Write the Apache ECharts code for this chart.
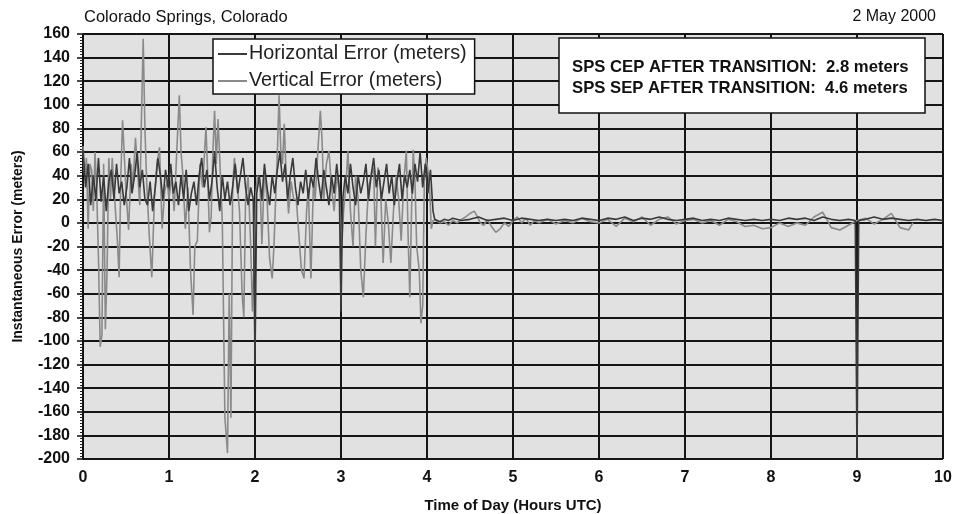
<!DOCTYPE html>
<html>
<head>
<meta charset="utf-8">
<script src="https://cdn.jsdelivr.net/npm/echarts@6/dist/echarts.min.js"></script>
<style>html,body{margin:0;padding:0;background:#fff;}#c{width:954px;height:514px;}</style>
</head>
<body>
<div id="c"></div>
<script>
// Tick labels
const xTicks = [0,1,2,3,4,5,6,7,8,9,10];
const yTicks = [-200,-180,-160,-140,-120,-100,-80,-60,-40,-20,0,20,40,60,80,100,120,140,160];

// Vertical error [hour, meters]
const verticalError = [
[0.00,65],[0.02,40],[0.04,55],[0.06,-5],[0.08,50],[0.10,45],[0.12,10],[0.14,60],[0.16,25],[0.18,-30],[0.20,-105],[0.22,-95],[0.24,50],[0.26,-90],[0.28,-40],[0.30,55],[0.32,20],[0.34,55],[0.36,30],[0.40,-15],[0.42,-46],[0.44,40],[0.46,87],[0.48,86],[0.50,27],[0.53,-6],[0.56,50],[0.58,30],[0.61,72],[0.63,50],[0.66,15],[0.68,90],[0.70,156],[0.72,80],[0.74,35],[0.77,-10],[0.80,-46],[0.83,20],[0.86,50],[0.89,64],[0.92,-5],[0.95,27],[0.98,35],
[1.00,20],[1.03,40],[1.06,10],[1.09,60],[1.12,108],[1.14,60],[1.16,42],[1.19,-5],[1.22,30],[1.25,-40],[1.28,-78],[1.30,-20],[1.33,-15],[1.36,50],[1.39,30],[1.43,81],[1.45,40],[1.47,-8],[1.49,5],[1.51,60],[1.53,95],[1.55,50],[1.57,88],[1.59,55],[1.62,0],[1.65,-165],[1.68,-195],[1.70,-60],[1.72,-165],[1.74,30],[1.76,55],[1.79,35],[1.82,10],[1.85,-60],[1.87,-80],[1.89,20],[1.92,40],[1.95,-20],[1.97,-75],[1.99,-30],
[2.01,25],[2.03,40],[2.06,30],[2.08,-18],[2.11,45],[2.14,20],[2.17,-30],[2.20,-47],[2.22,-20],[2.24,20],[2.26,60],[2.28,108],[2.30,60],[2.32,50],[2.34,84],[2.36,45],[2.39,8],[2.42,35],[2.45,20],[2.48,20],[2.51,-10],[2.54,-40],[2.57,-47],[2.60,10],[2.62,30],[2.65,-47],[2.68,35],[2.70,20],[2.73,60],[2.76,95],[2.78,70],[2.80,20],[2.83,50],[2.86,61],[2.89,30],[2.92,10],[2.95,40],[2.98,27],
[3.01,-20],[3.03,10],[3.06,35],[3.08,61],[3.11,10],[3.14,-20],[3.17,40],[3.20,20],[3.23,-40],[3.26,-63],[3.29,-10],[3.32,30],[3.35,40],[3.38,47],[3.40,-20],[3.43,47],[3.46,30],[3.49,-34],[3.52,20],[3.55,0],[3.58,-34],[3.61,10],[3.64,40],[3.67,20],[3.70,-15],[3.73,35],[3.76,61],[3.78,-10],[3.80,-63],[3.82,10],[3.84,62],[3.86,35],[3.88,-20],[3.91,-40],[3.93,-85],[3.95,-70],[3.97,40],[3.99,55],[4.01,45],[4.03,30],[4.05,-5],[4.07,2],
[4.10,2],[4.15,0],[4.20,1],[4.25,-2],[4.30,2],[4.35,0],[4.40,3],[4.45,5],[4.50,8],[4.55,10],[4.58,6],[4.62,0],[4.66,-2],[4.70,3],[4.75,-3],[4.80,-8],[4.85,-5],[4.90,0],[4.95,-3],[5.00,2],[5.05,5],[5.10,0],[5.15,4],[5.20,-2],[5.25,2],[5.30,0],[5.40,3],[5.50,-1],[5.60,2],[5.70,0],[5.80,4],[5.90,1],[6.00,0],[6.10,3],[6.20,-3],[6.30,4],[6.40,1],[6.50,5],[6.60,-2],[6.70,3],[6.80,5],[6.90,-1],[7.00,2],[7.10,3],[7.20,0],[7.30,2],[7.40,-2],[7.50,3],[7.60,1],[7.70,-3],[7.80,-2],[7.90,-5],[8.00,-4],[8.10,0],[8.20,-3],[8.30,0],[8.40,-2],[8.50,5],[8.60,9],[8.65,3],[8.70,-4],[8.80,-6],[8.90,-2],[9.00,2],[9.10,4],[9.20,-1],[9.30,3],[9.40,8],[9.45,2],[9.50,-4],[9.60,-6],[9.65,0]
];

// Horizontal error [hour, meters]
const horizontalError = [
[0.00,62],[0.03,30],[0.06,50],[0.09,15],[0.12,40],[0.15,20],[0.18,55],[0.21,18],[0.24,40],[0.27,10],[0.30,35],[0.33,45],[0.36,20],[0.39,50],[0.42,25],[0.45,35],[0.48,15],[0.51,30],[0.54,55],[0.57,25],[0.60,40],[0.63,60],[0.66,30],[0.69,45],[0.72,20],[0.75,15],[0.78,35],[0.81,10],[0.84,30],[0.87,55],[0.90,40],[0.93,20],[0.96,45],[0.99,30],
[1.02,50],[1.05,25],[1.08,35],[1.11,15],[1.14,40],[1.17,20],[1.20,45],[1.23,10],[1.26,25],[1.29,35],[1.32,15],[1.35,40],[1.38,55],[1.41,30],[1.44,45],[1.47,20],[1.50,35],[1.53,60],[1.56,30],[1.59,10],[1.62,40],[1.65,20],[1.68,35],[1.71,15],[1.74,30],[1.77,50],[1.80,25],[1.83,40],[1.86,55],[1.89,30],[1.92,15],[1.95,30],[1.98,20],[2.00,-120],
[2.02,25],[2.05,40],[2.08,20],[2.11,50],[2.14,30],[2.17,15],[2.20,40],[2.23,25],[2.26,45],[2.29,60],[2.32,35],[2.35,50],[2.38,20],[2.41,40],[2.44,55],[2.47,30],[2.50,15],[2.53,35],[2.56,25],[2.59,45],[2.62,20],[2.65,40],[2.68,30],[2.71,55],[2.74,35],[2.77,20],[2.80,45],[2.83,30],[2.86,15],[2.89,40],[2.92,25],[2.95,50],[2.98,30],[3.00,-75],
[3.02,20],[3.05,40],[3.08,25],[3.11,50],[3.14,30],[3.17,15],[3.20,40],[3.23,25],[3.26,35],[3.29,50],[3.32,20],[3.35,40],[3.38,55],[3.41,30],[3.44,45],[3.47,20],[3.50,35],[3.53,50],[3.56,25],[3.59,40],[3.62,15],[3.65,35],[3.68,50],[3.71,20],[3.74,40],[3.77,30],[3.80,45],[3.83,25],[3.86,50],[3.89,35],[3.92,60],[3.95,30],[3.98,50],[4.01,25],[4.04,45],[4.07,10],[4.09,3],
[4.15,1],[4.20,3],[4.25,2],[4.30,4],[4.40,2],[4.50,3],[4.60,5],[4.70,2],[4.80,3],[4.90,4],[5.00,2],[5.10,4],[5.20,3],[5.30,2],[5.40,3],[5.50,2],[5.60,3],[5.70,2],[5.80,4],[5.90,3],[6.00,2],[6.10,4],[6.20,3],[6.30,5],[6.40,2],[6.50,4],[6.60,3],[6.70,5],[6.80,3],[6.90,2],[7.00,3],[7.10,4],[7.20,2],[7.30,3],[7.40,2],[7.50,4],[7.60,3],[7.70,2],[7.80,3],[7.90,2],[8.00,3],[8.10,2],[8.20,4],[8.30,3],[8.40,4],[8.50,2],[8.60,5],[8.70,3],[8.80,2],[8.90,3],[8.98,2],[9.00,-200],[9.02,2],[9.10,3],[9.20,5],[9.30,3],[9.40,4],[9.50,3],[9.60,2],[9.70,3],[9.80,2],[9.90,3],[10.00,2]
];

const seriesNames = ['Horizontal Error (meters)', 'Vertical Error (meters)'];
const annotationLines = ['SPS CEP AFTER TRANSITION:  2.8 meters', 'SPS SEP AFTER TRANSITION:  4.6 meters'];

const chart = echarts.init(document.getElementById('c'), null, {renderer: 'canvas'});
const FONT = 'Liberation Sans Narrow, Liberation Sans, Arial, sans-serif';
chart.setOption({
  animation: false,
  backgroundColor: '#ffffff',
  grid: {left: 83, right: 11, top: 34, bottom: 55, show: true, backgroundColor: '#e1e1e1', borderWidth: 0,
    containLabel: false, outerBoundsMode: 'none'},
  xAxis: {
    type: 'value', min: 0, max: 10, interval: 1,
    name: 'Time of Day (Hours UTC)', nameLocation: 'middle', nameGap: 39,
    nameTextStyle: {fontFamily: FONT, fontWeight: 'bold', fontSize: 15, color: '#111'},
    axisLine: {show: false}, axisTick: {show: false},
    axisLabel: {fontFamily: FONT, fontWeight: 'bold', fontSize: 16, color: '#111', margin: 11,
      formatter: v => xTicks.includes(v) ? String(v) : ''},
    splitLine: {show: true, lineStyle: {color: '#151515', width: 2}}
  },
  yAxis: {
    type: 'value', min: -200, max: 160, interval: 20,
    name: 'Instantaneous Error (meters)', nameLocation: 'middle', nameGap: 58,
    nameTextStyle: {fontFamily: FONT, fontWeight: 'bold', fontSize: 14, color: '#111'},
    axisLine: {show: true, lineStyle: {color: '#111', width: 1.5}},
    axisTick: {show: true, length: 6, lineStyle: {color: '#111', width: 1.5}},
    minorTick: {show: true, splitNumber: 8, length: 3, lineStyle: {color: '#222', width: 1}},
    axisLabel: {fontFamily: FONT, fontWeight: 'bold', fontSize: 16, color: '#111', margin: 13,
      formatter: v => yTicks.includes(v) ? String(v) : ''},
    splitLine: {show: true, lineStyle: {color: '#151515', width: 2}}
  },
  legend: {
    data: seriesNames, orient: 'vertical', left: 213, top: 39,
    backgroundColor: '#ffffff', borderColor: '#111', borderWidth: 1.5,
    padding: [5, 8, 3, 5], itemGap: 7, itemWidth: 29, itemHeight: 2, icon: 'rect',
    textStyle: {fontFamily: 'Liberation Sans, Arial, sans-serif', fontSize: 19.8, color: '#222', padding: [0,0,0,-3]}
  },
  graphic: [
    {type: 'text', left: 84, top: 9, style: {text: 'Colorado Springs, Colorado', font: '16.5px Liberation Sans, Arial, sans-serif', fill: '#111'}},
    {type: 'text', right: 18, top: 9, style: {text: '2 May 2000', font: '16px Liberation Sans, Arial, sans-serif', fill: '#111'}},
    {type: 'rect', shape: {x: 559, y: 38, width: 366, height: 75}, style: {fill: '#ffffff', stroke: '#111', lineWidth: 1.5}, z: 100},
    {type: 'text', x: 572, y: 67, style: {text: annotationLines[0], font: 'bold 16.7px Liberation Sans, Arial, sans-serif', fill: '#111', verticalAlign: 'middle'}, z: 101},
    {type: 'text', x: 572, y: 88, style: {text: annotationLines[1], font: 'bold 16.7px Liberation Sans, Arial, sans-serif', fill: '#111', verticalAlign: 'middle'}, z: 101}
  ],
  series: [
    {name: seriesNames[0], type: 'line', data: horizontalError, showSymbol: false, symbol: 'none',
      lineStyle: {color: '#3a3a3a', width: 1.6}, itemStyle: {color: '#3a3a3a'}, z: 3},
    {name: seriesNames[1], type: 'line', data: verticalError, showSymbol: false, symbol: 'none',
      lineStyle: {color: '#8a8a8a', width: 1.6}, itemStyle: {color: '#8a8a8a'}, z: 2}
  ]
});
</script>
</body>
</html>
